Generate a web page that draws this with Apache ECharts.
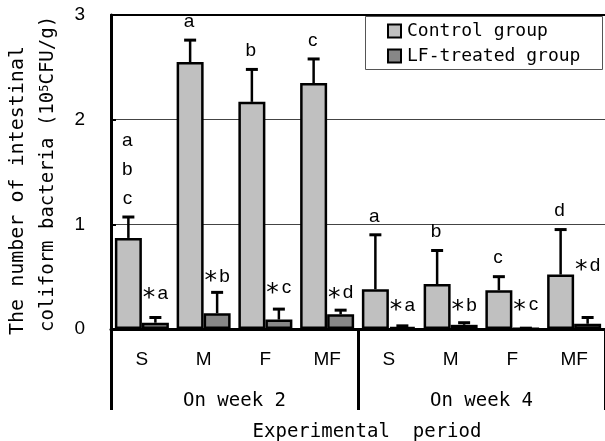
<!DOCTYPE html>
<html><head><meta charset="utf-8">
<script src="https://cdn.jsdelivr.net/npm/echarts@6/dist/echarts.min.js"></script>
<style>html,body{margin:0;padding:0;background:#fff}#c{width:605px;height:441px}</style>
</head><body><div id="c"></div>
<script>
// ---- data ----
const categories = ['S', 'M', 'F', 'MF', 'S', 'M', 'F', 'MF'];
const periods = ['On week 2', 'On week 4'];
const seriesNames = ['Control group', 'LF-treated group'];
const controlMean = [0.87, 2.55, 2.17, 2.35, 0.38, 0.43, 0.37, 0.52];
const controlSD   = [0.20, 0.21, 0.31, 0.23, 0.52, 0.32, 0.13, 0.43];
const lfMean = [0.06, 0.15, 0.09, 0.14, 0.02, 0.04, 0.005, 0.05];
const lfSD   = [0.05, 0.20, 0.10, 0.04, 0.01, 0.02, 0.003, 0.06];
const controlLetters = ['a\nb\nc', 'a', 'b', 'c', 'a', 'b', 'c', 'd'];
const lfLetters = ['a', 'b', 'c', 'd', 'a', 'b', 'c', 'd'];
const yTickLabels = ['0', '1', '2', '3'];

// ---- styling ----
const MONO = '"DejaVu Sans Mono"';
const SANS = '"Liberation Sans"';
const BAR_W = 27;
const lfLift = [24, 16, 21, 17, 20, 17, 23, 52];

const chart = echarts.init(document.getElementById('c'), null, {renderer: 'canvas'});

function errorRenderer(side, letters, isLF) {
  return function (params, api) {
    const i = api.value(0);
    const m = api.value(1);
    const s = api.value(2);
    const base = api.coord([i, m]);
    const top = api.coord([i, m + s]);
    const cx = base[0] + side * BAR_W / 2;
    const children = [
      {type: 'line', shape: {x1: cx, y1: base[1], x2: cx, y2: top[1]}, style: {stroke: '#000', lineWidth: 2.5}},
      {type: 'line', shape: {x1: cx - 6, y1: top[1], x2: cx + 6, y2: top[1]}, style: {stroke: '#000', lineWidth: 3}}
    ];
    if (!isLF) {
      children.push({type: 'text', style: {
        text: letters[i], x: cx - 1, y: top[1] - 4, fill: '#000',
        font: '19px ' + SANS, textAlign: 'center', textVerticalAlign: 'bottom', lineHeight: 29
      }});
    } else {
      const ly = top[1] - lfLift[i];
      children.push({type: 'text', style: {
        text: '*', x: cx - 6.5, y: ly + 5, fill: '#000',
        font: '25px "DejaVu Sans"', textAlign: 'center', textVerticalAlign: 'middle'
      }});
      children.push({type: 'text', style: {
        text: letters[i], x: cx + 7.5, y: ly, fill: '#000',
        font: '19px ' + SANS, textAlign: 'center', textVerticalAlign: 'middle'
      }});
    }
    return {type: 'group', children: children};
  };
}

const option = {
  animation: false,
  backgroundColor: '#fff',
  grid: {left: 111, top: 15, width: 500, height: 314, containLabel: false},
  legend: {
    data: seriesNames,
    orient: 'vertical',
    left: 387, top: 22,
    padding: 0,
    z: 20, zlevel: 0,
    itemWidth: 13, itemHeight: 13, itemGap: 7,
    icon: 'rect',
    itemStyle: {borderColor: '#000', borderWidth: 2},
    textStyle: {fontFamily: MONO, fontSize: 18, color: '#000', lineHeight: 18, padding: [0, 0, 0, 1]}
  },
  xAxis: [
    {
      type: 'category', data: categories, position: 'bottom', gridIndex: 0,
      axisLine: {show: true, lineStyle: {color: '#000', width: 3}},
      axisTick: {show: false},
      axisLabel: {interval: 0, margin: 21, color: '#000', fontFamily: SANS, fontSize: 19}
    },
    {
      type: 'category', data: periods, position: 'bottom', gridIndex: 0,
      axisLine: {show: false},
      axisTick: {show: true, interval: 0, length: 81, alignWithLabel: false, lineStyle: {color: '#000', width: 3}},
      axisLabel: {interval: 0, margin: 63, color: '#000', fontFamily: MONO, fontSize: 19}
    },
    {
      type: 'category', data: categories, position: 'top', gridIndex: 0,
      axisLine: {show: true, lineStyle: {color: '#000', width: 2}},
      axisTick: {show: false}, axisLabel: {show: false}
    }
  ],
  yAxis: {
    type: 'value', min: 0, max: 3, interval: 1,
    axisLine: {show: true, lineStyle: {color: '#000', width: 3}},
    axisTick: {show: true, inside: true, length: 5, lineStyle: {color: '#000', width: 2}},
    axisLabel: {margin: 26, color: '#000', fontFamily: SANS, fontSize: 19,
      formatter: function (v) { return yTickLabels[Math.round(v)]; }},
    splitLine: {show: true, lineStyle: {color: '#444', width: 1}}
  },
  series: [
    {
      name: seriesNames[0], type: 'bar', data: controlMean, barWidth: BAR_W, barGap: '0%',
      itemStyle: {color: '#c0c0c0', borderColor: '#000', borderWidth: 2.5}, z: 2
    },
    {
      name: seriesNames[1], type: 'bar', data: lfMean, barWidth: BAR_W, barGap: '0%',
      itemStyle: {color: '#878787', borderColor: '#000', borderWidth: 2.5}, z: 2
    },
    {
      name: 'ctrlErr', type: 'custom', clip: false, z: 3,
      data: controlMean.map(function (m, i) { return [i, m, controlSD[i]]; }),
      encode: {x: 0, y: 1},
      renderItem: errorRenderer(-1, controlLetters, false)
    },
    {
      name: 'lfErr', type: 'custom', clip: false, z: 3,
      data: lfMean.map(function (m, i) { return [i, m, lfSD[i]]; }),
      encode: {x: 0, y: 1},
      renderItem: errorRenderer(1, lfLetters, true)
    }
  ],
  graphic: [
    {type: 'rect', left: 365, top: 16, z: 3, silent: true,
      shape: {width: 237, height: 53},
      style: {fill: '#fff', stroke: '#555', lineWidth: 1}},
    {type: 'text', x: 18, y: 335, rotation: Math.PI / 2,
      style: {text: 'The number of intestinal', font: '20px ' + MONO, fill: '#000',
        textAlign: 'left', textVerticalAlign: 'middle'}},
    {type: 'text', x: 48, y: 332, rotation: Math.PI / 2,
      style: {text: 'coliform bacteria (10{sup|5}CFU/g)', font: '19px ' + MONO, fill: '#000',
        textAlign: 'left', textVerticalAlign: 'middle',
        rich: {sup: {font: '12px ' + MONO, verticalAlign: 'top', fill: '#000'}}}},
    {type: 'text', x: 367, y: 432,
      style: {text: 'Experimental  period', font: '19px ' + MONO, fill: '#000',
        textAlign: 'center', textVerticalAlign: 'middle'}}
  ]
};
chart.setOption(option);
</script>
</body></html>
